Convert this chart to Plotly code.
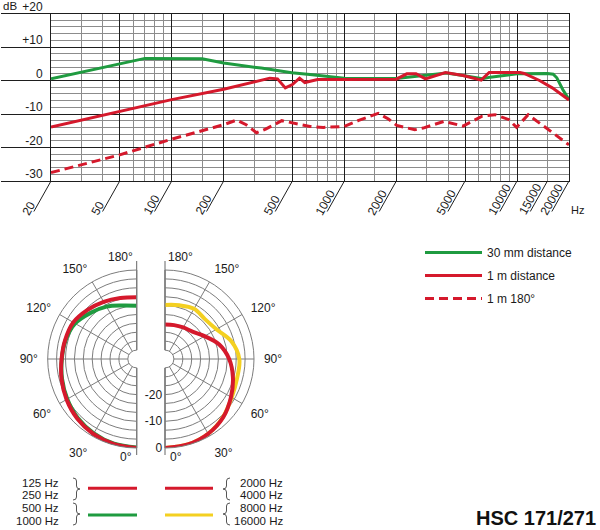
import numpy as np
import plotly.graph_objects as go

W, H = 600, 530
RED = "#d5192c"
GREEN = "#1f9b40"
YELLOW = "#f4d021"
MAJOR = "#1e1e1e"
MINOR = "#8c8c8c"
PGRID = "#7d7d7d"
FONT = "Liberation Sans, Arial, Helvetica, sans-serif"

# ---------------- frequency response data ----------------
freq_30mm = [20, 70, 150, 200, 330, 496, 632, 824, 1000, 2000, 2860, 3900, 4870,
             6300, 7000, 10000, 15000, 16200, 17000, 18400, 20000]
db_30mm = [0.5, 6.6, 6.5, 5.2, 3.7, 2.3, 1.8, 1.1, 0.7, 0.6, 1.4, 2.2, 1.5,
           0.5, 1.0, 2.0, 2.1, 1.9, 0.8, -2.7, -5.7]

freq_1m = [20, 50, 100, 200, 370, 410, 455, 500, 550, 590, 700, 1000, 2000,
           2300, 2600, 2950, 3850, 4870, 6200, 6900, 10400, 11000, 13500, 16000, 20000]
db_1m = [-13.9, -9.2, -5.7, -2.6, 0.7, 0.5, -2.2, -1.2, 0.7, -0.6, 0.3, 0.3, 0.4,
         2.0, 2.0, 0.5, 2.4, 1.5, 0.1, 2.4, 2.4, 2.1, 0.0, -2.2, -5.8]

freq_180 = [20, 50, 100, 200, 238, 270, 310, 350, 434, 552, 632, 755, 1000,
            1200, 1570, 1800, 2012, 2560, 2860, 3770, 4870, 6240, 7450, 9000,
            9940, 11600, 14190, 20000]
db_180 = [-27.5, -22.2, -17.5, -13.2, -11.8, -13.2, -15.6, -14.5, -12.0, -13.2, -13.7,
          -14.0, -13.7, -12.0, -9.8, -11.5, -13.4, -14.7, -14.2, -12.2, -13.6, -10.7,
          -10.2, -11.7, -14.0, -10.2, -13.6, -19.2]

x_major = [20, 50, 100, 200, 500, 1000, 2000, 5000, 10000, 20000]
x_minor = [30, 40, 60, 70, 80, 90, 150, 300, 400, 600, 700, 800, 900, 1500,
           3000, 4000, 6000, 7000, 8000, 9000, 15000]
x_labels = [20, 50, 100, 200, 500, 1000, 2000, 5000, 10000, 15000, 20000]
y_major = [-30, -20, -10, 0, 10, 20]
y_labels = ["-30", "-20", "-10", "0", "+10", "+20"]

# ---------------- polar data (dB) ----------------
theta = [0, 15, 30, 45, 60, 75, 90, 105, 120, 135, 150, 165, 180]
pol_125_250 = [0.0, -0.3, -0.9, -1.8, -3.0, -4.2, -5.2, -5.6, -5.9, -7.3, -8.6, -9.7, -10.2]
pol_500_1000 = [-0.2, -0.5, -1.2, -2.1, -3.3, -4.4, -5.3, -5.8, -6.7, -8.9, -10.7, -12.6, -13.4]
pol_2000_4000 = [0.0, -0.2, -1.0, -2.5, -4.8, -7.0, -9.3, -12.3, -16.2, -18.8, -19.7, -20.2, -20.4]
pol_8000_16000 = [0.0, -0.2, -1.0, -2.6, -4.5, -5.4, -5.5, -7.6, -11.1, -12.2, -11.6, -12.5, -13.1]
ang_ticks = [0, 30, 60, 90, 120, 150, 180]
ang_labels = ["" if a in (0, 180) else f"{a}°" for a in ang_ticks]
ring_vals = [-30 + k * 10 / 3 for k in range(1, 10)]
ring_text = ["" if abs(v - round(v)) > 0.01 or round(v) % 10 else str(int(round(v))) for v in ring_vals]

fig = go.Figure()

fig.add_trace(go.Scatter(x=freq_30mm, y=db_30mm, mode="lines", name="30 mm distance",
                         legendgroup="a", line=dict(color=GREEN, width=3)))
fig.add_trace(go.Scatter(x=freq_1m, y=db_1m, mode="lines", name="1 m distance",
                         legendgroup="b", line=dict(color=RED, width=3)))
fig.add_trace(go.Scatter(x=freq_180, y=db_180, mode="lines", name="1 m 180°",
                         legendgroup="c", line=dict(color=RED, width=3, dash="9px,5px")))

pl = dict(mode="lines", showlegend=False)
fig.add_trace(go.Scatterpolar(theta=theta, r=pol_500_1000, subplot="polar",
                              line=dict(color=GREEN, width=4, shape="spline"), **pl))
fig.add_trace(go.Scatterpolar(theta=theta, r=pol_125_250, subplot="polar",
                              line=dict(color=RED, width=4, shape="spline"), **pl))
fig.add_trace(go.Scatterpolar(theta=theta, r=pol_8000_16000, subplot="polar2",
                              line=dict(color=YELLOW, width=4, shape="spline"), **pl))
fig.add_trace(go.Scatterpolar(theta=theta, r=pol_2000_4000, subplot="polar2",
                              line=dict(color=RED, width=4, shape="spline"), **pl))

# ---------------- layout geometry (pixels) ----------------
PL, PR, PT, PB = 51, 569, 13.5, 181
LCX, RCX, CY, R = 136.7, 165.0, 359.0, 89.0
HOLE = 0.1


def px(x):
    return x / W


def py(y):
    return 1 - y / H


def polar_layout(sector, direction, cx_left, side):
    # the clockwise (left) half is spanned by theta in [-360, -180] ≡ [0, 180]
    offs = -360 if side == "left" else 0
    return dict(
        domain=dict(x=[px(cx_left), px(cx_left + R)], y=[py(CY + R), py(CY - R)]),
        sector=sector, hole=HOLE, bgcolor="rgba(0,0,0,0)",
        angularaxis=dict(rotation=270, direction=direction, tickmode="array",
                         tickvals=[a + offs for a in ang_ticks], ticktext=ang_labels,
                         showgrid=True, gridcolor=PGRID, gridwidth=1, showline=True,
                         linecolor=PGRID, linewidth=1, ticks="outside", ticklen=7,
                         tickcolor="rgba(0,0,0,0)",
                         tickfont=dict(size=12, color="#1a1a1a")),
        radialaxis=dict(range=[-30, 0], tickmode="array", tickvals=ring_vals, ticktext=ring_text,
                        showgrid=True, gridcolor=PGRID, gridwidth=1, showline=False, ticks="",
                        angle=270, side="clockwise", showticklabels=(side == "right"),
                        tickangle=-90, tickfont=dict(size=12, color="#1a1a1a")),
    )


fig.update_layout(
    template="none", width=W, height=H, margin=dict(l=0, r=0, t=0, b=0),
    paper_bgcolor="white", plot_bgcolor="white",
    font=dict(family=FONT, size=12, color="#1a1a1a"),
    xaxis=dict(type="log", range=[np.log10(20), np.log10(20000)], domain=[px(PL), px(PR)],
               tickmode="array", tickvals=x_major, showticklabels=False, ticks="",
               showgrid=True, gridcolor=MAJOR, gridwidth=1, zeroline=False,
               minor=dict(tickmode="array", tickvals=x_minor, showgrid=True, gridcolor=MINOR,
                          gridwidth=1, ticks=""),
               showline=True, linecolor=MAJOR, linewidth=1, mirror=True),
    yaxis=dict(range=[-30, 20], domain=[py(PB), py(PT)], tickmode="array", tickvals=y_major,
               ticktext=y_labels, ticks="outside", ticklen=49, tickcolor=MAJOR, tickwidth=1,
               ticklabelstandoff=-44, ticklabelshift=-7, ticklabeloverflow="allow",
               showgrid=True, gridcolor=MAJOR, gridwidth=1, zeroline=False,
               minor=dict(dtick=2, tick0=0, showgrid=True, gridcolor=MINOR, gridwidth=1, ticks=""),
               showline=True, linecolor=MAJOR, linewidth=1, mirror=True),
    polar=polar_layout([90, 270], "clockwise", LCX - R, "left"),
    polar2=polar_layout([-90, 90], "counterclockwise", RCX, "right"),
    legend=dict(x=px(420), y=py(238), xanchor="left", yanchor="top", traceorder="grouped",
                tracegroupgap=4, itemwidth=57, bgcolor="rgba(0,0,0,0)", font=dict(size=12)),
    showlegend=True,
)

# x tick labels on slanted leaders
ang = np.deg2rad(61)
for v in x_labels:
    t = str(v)
    fig.add_annotation(x=np.log10(v), y=-30, xref="x", yref="y", text="", showarrow=True,
                       arrowhead=0, arrowwidth=1, arrowcolor=MAJOR, ax=-18, ay=32)
    w = len(t) * 12 * 0.556
    cx = -25 + 0.5 * w * np.cos(ang)
    cy = 33 - 0.5 * w * np.sin(ang)
    fig.add_annotation(x=np.log10(v), y=-30, xref="x", yref="y", text=t, showarrow=False,
                       textangle=-61, xanchor="center", yanchor="middle",
                       xshift=cx, yshift=-cy, font=dict(size=12))

fig.add_annotation(x=px(1), y=py(6), xref="paper", yref="paper", text="dB", showarrow=False,
                   xanchor="left", yanchor="middle", font=dict(size=11.5))
fig.add_annotation(x=px(569), y=py(210), xref="paper", yref="paper", text="Hz", showarrow=False,
                   xanchor="left", yanchor="middle", font=dict(size=11))

# 0° / 180° labels beside the split axis
for t, xx, yy, xa in (("180°", 135, 257, "right"), ("0°", 134, 457, "right"),
                      ("180°", 166, 257, "left"), ("0°", 168, 457, "left")):
    fig.add_annotation(x=px(xx), y=py(yy), xref="paper", yref="paper", text=t, showarrow=False,
                       xanchor=xa, yanchor="middle", font=dict(size=12))

# polar edge lines (interrupted by the centre hole)
hr = HOLE * R
for cx in (LCX, RCX):
    for y0, y1 in ((CY - R - 9, CY - hr), (CY + hr, CY + R + 7)):
        fig.add_shape(type="line", xref="paper", yref="paper", x0=px(cx), x1=px(cx),
                      y0=py(y0), y1=py(y1), line=dict(color="#666666", width=1), layer="below")

# polar legend keys
keys = [
    (88, 137, 488.3, RED), (88, 137, 515, GREEN),
    (165, 213, 488.3, RED), (165, 213, 515, YELLOW),
]
for x0, x1, yy, c in keys:
    fig.add_shape(type="line", xref="paper", yref="paper", x0=px(x0), x1=px(x1),
                  y0=py(yy), y1=py(yy), line=dict(color=c, width=3))

left_txt = [("125 Hz", 482.5), ("250 Hz", 494.5), ("500 Hz", 507.5), ("1000 Hz", 521)]
right_txt = [("2000 Hz", 482.5), ("4000 Hz", 494.5), ("8000 Hz", 507.5), ("16000 Hz", 521)]
for t, yy in left_txt:
    fig.add_annotation(x=px(61), y=py(yy), xref="paper", yref="paper", text=t, showarrow=False,
                       xanchor="right", yanchor="middle", font=dict(size=11.5))
for t, yy in right_txt:
    fig.add_annotation(x=px(285), y=py(yy), xref="paper", yref="paper", text=t, showarrow=False,
                       xanchor="right", yanchor="middle", font=dict(size=11.5))


def brace(xa, xb, top, bot):
    m = (top + bot) / 2
    xm = (xa + xb) / 2
    pts = [
        f"M{px(xa)},{py(top)}",
        f"Q{px(xm)},{py(top)} {px(xm)},{py(top + 3)}",
        f"L{px(xm)},{py(m - 3)}",
        f"Q{px(xm)},{py(m)} {px(xb)},{py(m)}",
        f"Q{px(xm)},{py(m)} {px(xm)},{py(m + 3)}",
        f"L{px(xm)},{py(bot - 3)}",
        f"Q{px(xm)},{py(bot)} {px(xa)},{py(bot)}",
    ]
    return " ".join(pts)


for top, bot in ((478, 500), (503, 525)):
    fig.add_shape(type="path", xref="paper", yref="paper", path=brace(73, 80, top, bot),
                  line=dict(color="#555555", width=1))
    fig.add_shape(type="path", xref="paper", yref="paper", path=brace(230, 223, top, bot),
                  line=dict(color="#555555", width=1))

fig.add_annotation(x=px(598), y=py(518), xref="paper", yref="paper", text="<b>HSC 171/271</b>",
                   showarrow=False, xanchor="right", yanchor="middle",
                   font=dict(size=20, color="#111111"))

fig.write_html("out.html")
